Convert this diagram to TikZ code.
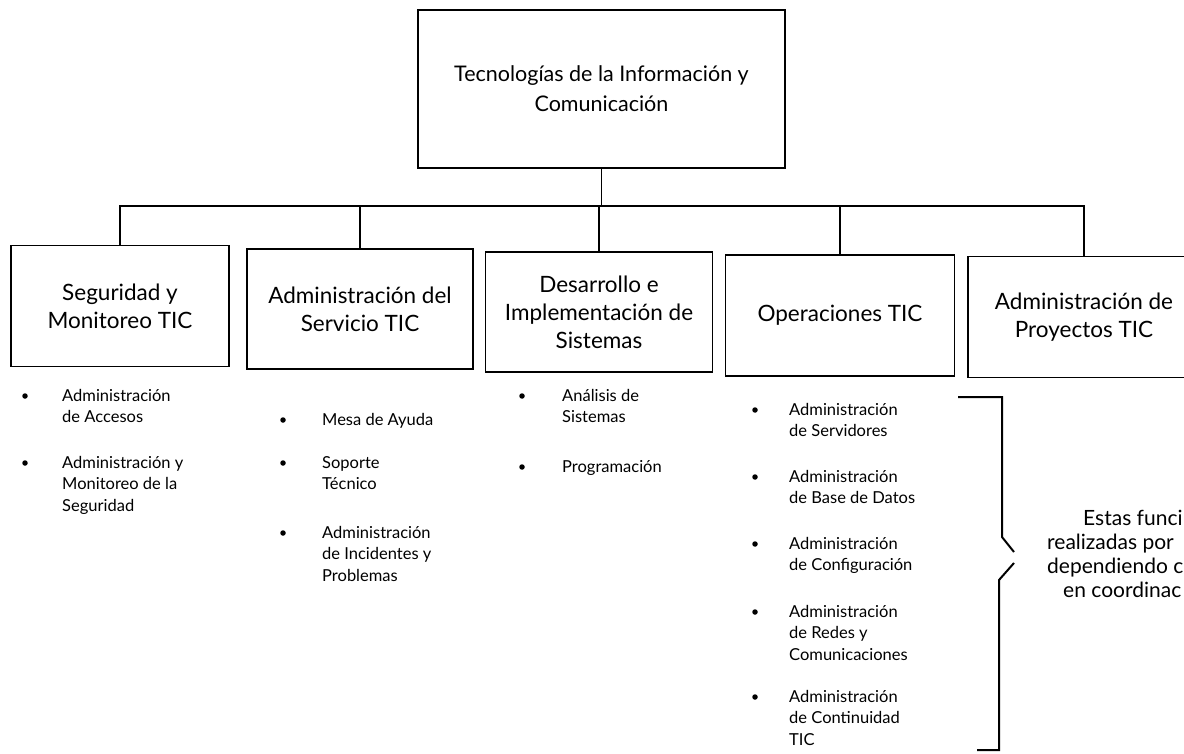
\documentclass[tikz,border=0pt]{standalone}
\usepackage{fontspec}
\setmainfont{Lato}
\newcommand{\stk}[1]{\begin{tabular}[t]{@{}l@{}}#1\end{tabular}}
\begin{document}
\begin{tikzpicture}[x=1pt,y=-1pt,
  box/.style={draw, line width=1.4pt, align=center, inner sep=0pt},
  ttl/.style={font=\fontsize{21.5}{30}\selectfont},
  unit/.style={box, font=\fontsize{22.5}{28}\selectfont},
  bul/.style={circle, fill, inner sep=0pt, minimum size=5.5pt},
  item/.style={anchor=base west, inner sep=0pt, font=\fontsize{16.5}{21.5}\selectfont},
  note/.style={anchor=base west, inner sep=0pt, font=\fontsize{21}{24}\selectfont},
  conn/.style={line width=1.3pt},
  brace/.style={line width=2pt}]
\useasboundingbox (0,0) rectangle (1184,754);
\begin{scope}
\clip (0,0) rectangle (1184,754);
% boxes
\node[box, ttl, minimum width=367pt, minimum height=158pt] (top) at (601.5,89) {Tecnologías de la Información y\\Comunicación};
\node[unit, minimum width=218pt, minimum height=121pt] (b1) at (120,306) {Seguridad y\\Monitoreo TIC};
\node[unit, minimum width=226pt, minimum height=120pt] (b2) at (360,309) {Administración del\\Servicio TIC};
\node[unit, minimum width=227pt, minimum height=120pt] (b3) at (599,312) {Desarrollo e\\Implementación de\\Sistemas};
\node[unit, minimum width=229pt, minimum height=121pt] (b4) at (840,315.5) {Operaciones TIC};
\node[unit, minimum width=232pt, minimum height=121pt] (b5) at (1084,317) {Administración de\\Proyectos TIC};
% connectors
\coordinate (bus) at (600,206);
\draw[conn] (top.south) -- (top.south |- bus);
\draw[conn] (b1.north) -- (b1.north |- bus) -- (b5.north |- bus) -- (b5.north);
\foreach \b in {b2,b3,b4} \draw[conn] (\b.north) -- (\b.north |- bus);
% column 1
\node[bul] (p11) at (25,396) {};
\node[item] (t11) at (62,401) {\stk{Administración\\de Accesos}};
\node[bul] (p12) at (25,463) {};
\node[item] (t12) at (62,468) {\stk{Administración y\\Monitoreo de la\\Seguridad}};
% column 2
\node[bul] (p21) at (283,420) {};
\node[item] (t21) at (322,425) {Mesa de Ayuda};
\node[bul] (p22) at (283,463) {};
\node[item] (t22) at (322,468) {\stk{Soporte\\Técnico}};
\node[bul] (p23) at (283,533) {};
\node[item] (t23) at (322,538) {\stk{Administración\\de Incidentes y\\Problemas}};
% column 3
\node[bul] (p31) at (522,396) {};
\node[item] (t31) at (562,401) {\stk{Análisis de\\Sistemas}};
\node[bul] (p32) at (522,467) {};
\node[item] (t32) at (562,472) {Programación};
% column 4
\node[bul] (p41) at (755,410) {};
\node[item] (t41) at (789,415) {\stk{Administración\\de Servidores}};
\node[bul] (p42) at (755,477) {};
\node[item] (t42) at (789,482) {\stk{Administración\\de Base de Datos}};
\node[bul] (p43) at (755,544) {};
\node[item] (t43) at (789,549) {\stk{Administración\\de Configuración}};
\node[bul] (p44) at (755,612) {};
\node[item] (t44) at (789,617) {\stk{Administración\\de Redes y\\Comunicaciones}};
\node[bul] (p45) at (755,697) {};
\node[item] (t45) at (789,702) {\stk{Administración\\de Continuidad\\TIC}};
% brace
\coordinate (k1) at (958,397);
\coordinate (k2) at (1002,397);
\coordinate (k3) at (1002,537);
\coordinate (k4) at (1014,552);
\coordinate (k5) at (1014,563);
\coordinate (k6) at (999,580);
\coordinate (k7) at (999,750);
\coordinate (k8) at (977,750);
\draw[brace] (k1) -- (k2) -- (k3) -- (k4);
\draw[brace] (k5) -- (k6) -- (k7) -- (k8);
% note (cut off at the right edge)
\node[note] (n1) at (1083,525) {Estas funci};
\node[note] (n2) at (1047,549) {realizadas por};
\node[note] (n3) at (1047,573) {dependiendo c};
\node[note] (n4) at (1063,597) {en coordinac};
\end{scope}
\end{tikzpicture}
\end{document}
